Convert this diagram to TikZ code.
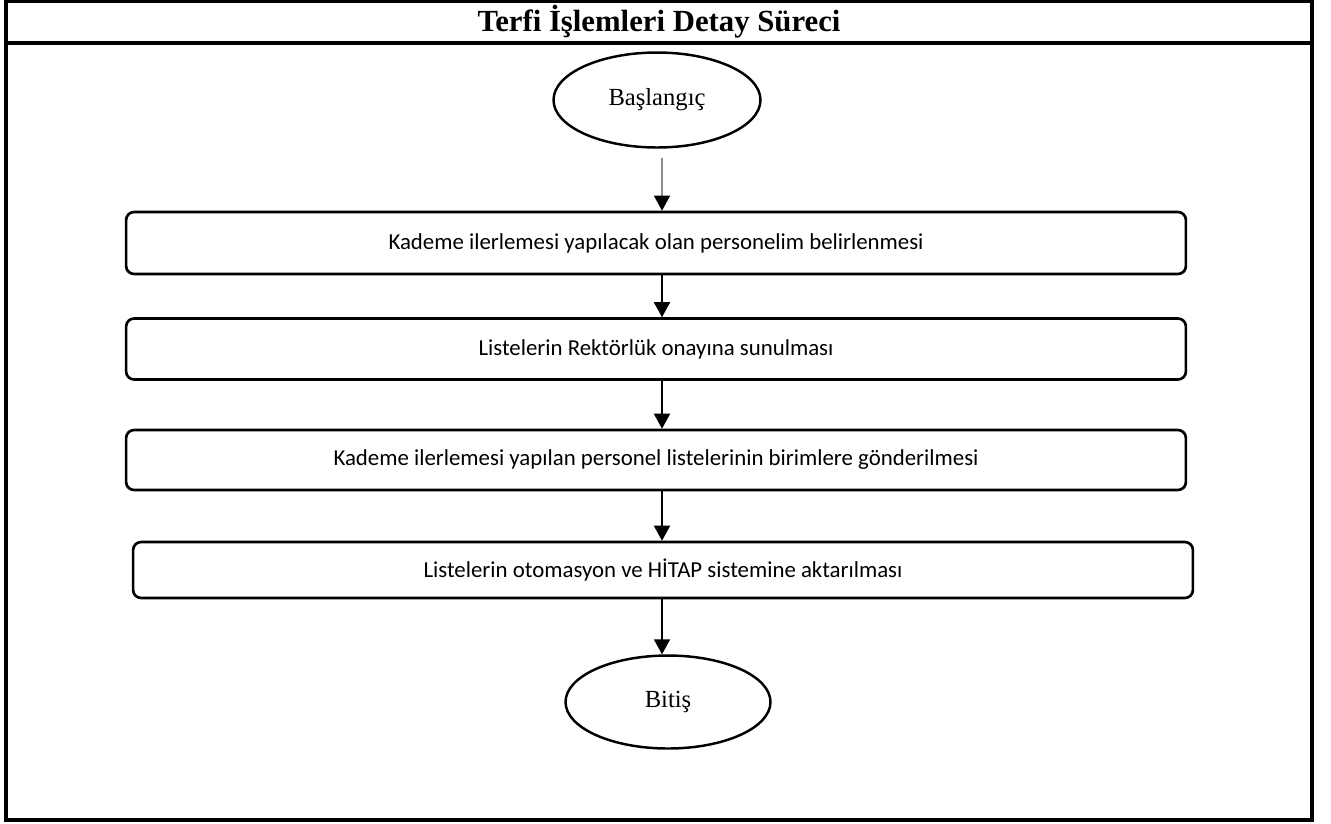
\documentclass[tikz,border=0pt]{standalone}
\usepackage{fontspec}
\setmainfont{Liberation Serif}
\newfontfamily\boxfont{Carlito}
\usetikzlibrary{shapes.geometric,arrows.meta}
\begin{document}
\begin{tikzpicture}[x=0.02cm, y=-0.02cm,
  frame/.style={line width=1.8pt, black},
  endpoint/.style={ellipse, draw, line width=1.4pt, inner sep=0pt,
    minimum width=4.14cm, minimum height=1.9cm, font=\fontsize{14}{16}\selectfont},
  stepbox/.style={rectangle, rounded corners=0.16cm, draw, line width=1.5pt, inner sep=0pt,
    minimum width=21.2cm, font=\boxfont\fontsize{13}{15}\selectfont},
  arr/.style={line width=1.1pt, -{Triangle[length=0.3cm, width=0.32cm]}}]
  \useasboundingbox (0,0) rectangle (1331,823);
  % Frame and title
  \draw[frame] (6,1) rectangle (1312,820);
  \draw[frame] (6,43) -- (1312,43);
  \node[font=\bfseries\fontsize{17.5}{20}\selectfont] (title) at (659,22) {Terfi İşlemleri Detay Süreci};
  % Flow
  \node[endpoint] (start) at (657,100) {Başlangıç};
  \node[stepbox, minimum height=1.24cm] (b1) at (656,243) {Kademe ilerlemesi yapılacak olan personelim belirlenmesi};
  \node[stepbox, minimum height=1.22cm] (b2) at (656,349) {Listelerin Rektörlük onayına sunulması};
  \node[stepbox, minimum height=1.2cm] (b3) at (656,460) {Kademe ilerlemesi yapılan personel listelerinin birimlere gönderilmesi};
  \node[stepbox, minimum height=1.12cm] (b4) at (663,570) {Listelerin otomasyon ve HİTAP sistemine aktarılması};
  \node[endpoint, minimum width=4.1cm, minimum height=1.86cm] (end) at (668,702) {Bitiş};
  \coordinate (axis) at (662,0);
  % Arrows
  \draw[line width=0.8pt, black!45, -{Triangle[length=0.3cm, width=0.32cm, black]}, shorten <=0.18cm]
    (start.south -| axis) -- (b1.north -| axis);
  \draw[arr] (b1.south -| axis) -- (b2.north -| axis);
  \draw[arr] (b2.south -| axis) -- (b3.north -| axis);
  \draw[arr] (b3.south -| axis) -- (b4.north -| axis);
  \draw[arr] (b4.south -| axis) -- (end.north -| axis);
\end{tikzpicture}
\end{document}
